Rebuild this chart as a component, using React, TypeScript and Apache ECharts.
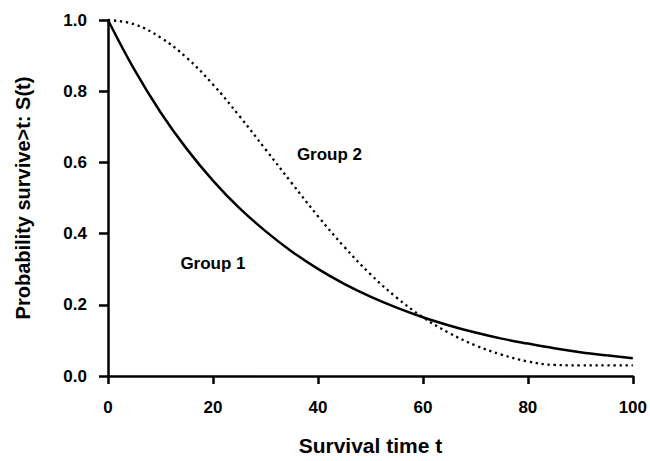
import React, { useEffect, useRef } from "react";
import * as echarts from "echarts";

const timePoints = [0, 5, 10, 15, 20, 25, 30, 35, 40, 45, 50, 55, 60, 65, 70, 75, 80, 85, 90, 95, 100];
const group1 = [1.0, 0.861, 0.741, 0.638, 0.549, 0.472, 0.407, 0.35, 0.301, 0.259, 0.223, 0.192, 0.165, 0.142, 0.122, 0.105, 0.091, 0.078, 0.067, 0.058, 0.05];
const group2 = [1.0, 0.988, 0.951, 0.894, 0.819, 0.731, 0.637, 0.542, 0.449, 0.363, 0.286, 0.22, 0.165, 0.121, 0.086, 0.06, 0.041, 0.031, 0.03, 0.03, 0.03];
const labelNames = ["Group 1", "Group 2"];
const labelPositions: [number, number][] = [[20, 0.316], [42.2, 0.623]];
const xTitle = "Survival time t";
const yTitle = "Probability survive>t: S(t)";

const FONT = "'Liberation Sans', Arial, sans-serif";

export default function App() {
  const ref = useRef<HTMLDivElement>(null);
  useEffect(() => {
    if (!ref.current) return;
    const chart = echarts.init(ref.current, undefined, { renderer: "svg" });
    const axisLine = { show: true, onZero: false, lineStyle: { color: "#000", width: 2.5 } };
    const labelStyle = { fontFamily: FONT, fontWeight: "bold", fontSize: 17, color: "#000" };
    chart.setOption({
      animation: false,
      backgroundColor: "#fff",
      grid: { left: 108, right: 16, top: 20, bottom: 80, containLabel: false },
      xAxis: {
        type: "value",
        min: 0,
        max: 100,
        interval: 20,
        name: xTitle,
        nameLocation: "middle",
        nameGap: 59,
        nameTextStyle: { fontFamily: FONT, fontWeight: "bold", fontSize: 21, color: "#000" },
        axisLine,
        axisTick: { show: true, length: 8, lineStyle: { color: "#000", width: 2.5 } },
        splitLine: { show: false },
        axisLabel: { ...labelStyle, margin: 23 },
      },
      yAxis: {
        type: "value",
        min: 0,
        max: 1,
        interval: 0.2,
        name: yTitle,
        nameLocation: "middle",
        nameGap: 75,
        nameTextStyle: { fontFamily: FONT, fontWeight: "bold", fontSize: 20, color: "#000" },
        axisLine,
        axisTick: { show: true, length: 9, lineStyle: { color: "#000", width: 2.5 } },
        splitLine: { show: false },
        axisLabel: {
          ...labelStyle,
          margin: 21,
          formatter: (v: number) => v.toFixed(1),
        },
      },
      series: [
        {
          type: "line",
          data: timePoints.map((t, i) => [t, group1[i]]),
          smooth: 0.4,
          showSymbol: false,
          lineStyle: { color: "#000", width: 2.5, type: "solid" },
        },
        {
          type: "line",
          data: timePoints.map((t, i) => [t, group2[i]]),
          smooth: 0.4,
          showSymbol: false,
          lineStyle: { color: "#000", width: 2.3, type: [2.3, 3.7] },
        },
        {
          type: "scatter",
          symbolSize: 0,
          silent: true,
          itemStyle: { opacity: 1, color: "#000" },
          data: labelPositions.map((p, i) => ({ value: p, name: labelNames[i] })),
          label: {
            show: true,
            position: [0, 0],
            align: "center",
            verticalAlign: "middle",
            formatter: (p: any) => p.name,
            textBorderWidth: 0,
            opacity: 1,
            ...labelStyle,
          },
        },
      ],
    });
    return () => chart.dispose();
  }, []);
  return <div ref={ref} style={{ width: 650, height: 461, position: "absolute", left: 0, top: 0 }} />;
}
